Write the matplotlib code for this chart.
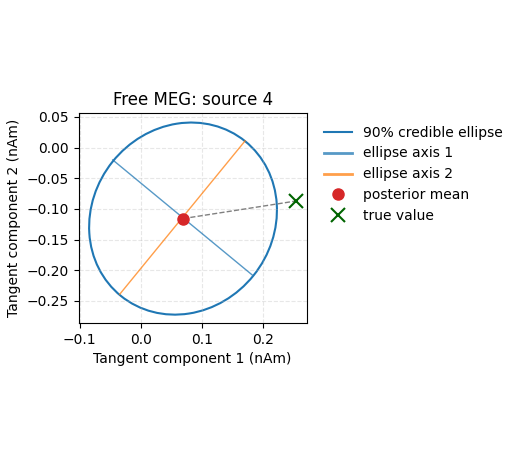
import matplotlib
matplotlib.use("Agg")
import matplotlib.pyplot as plt
from matplotlib.patches import Ellipse
from matplotlib.lines import Line2D
import numpy as np

# values (nAm)
post_mean = [0.069, -0.1157]
true_val = [0.254, -0.087]
semi_axes = [0.148, 0.162]      # half-lengths of axis 1 and axis 2
angle_axis2 = 51.2              # degrees, axis 1 is perpendicular
axis1_ends_x = [-0.046, 0.182]
axis1_ends_y = [-0.0200, -0.2075]
axis2_ends_x = [-0.0345, 0.1705]
axis2_ends_y = [-0.2390, 0.0110]

fig = plt.figure(figsize=(5.2, 4.59), dpi=100)
ax = fig.add_axes([0.151, 0.2963, 0.439, 0.4575])

ell = Ellipse(post_mean, width=2 * semi_axes[1], height=2 * semi_axes[0],
              angle=angle_axis2, fill=False, edgecolor='tab:blue', lw=1.5)
ax.add_patch(ell)
ax.plot(axis1_ends_x, axis1_ends_y, color='tab:blue', alpha=0.75, lw=1.0)
ax.plot(axis2_ends_x, axis2_ends_y, color='tab:orange', alpha=0.75, lw=1.0)
ax.plot([post_mean[0], true_val[0]], [post_mean[1], true_val[1]],
        ls='--', color='gray', lw=1.0)
ax.plot(post_mean[0], post_mean[1], 'o', color='tab:red', ms=8, zorder=5)
ax.plot(true_val[0], true_val[1], 'x', color='darkgreen', ms=10, mew=1.5, zorder=5)

ax.set_xlim(-0.102, 0.2715)
ax.set_ylim(-0.286, 0.0565)
ax.set_xticks([-0.1, 0.0, 0.1, 0.2])
ax.set_yticks(np.arange(-0.25, 0.051, 0.05))
ax.grid(True, ls='--', alpha=0.3)
ax.set_xlabel('Tangent component 1 (nAm)')
ax.set_ylabel('Tangent component 2 (nAm)')
ax.set_title('Free MEG: source 4')

handles = [
    Line2D([], [], color='tab:blue', lw=1.5),
    Line2D([], [], color='tab:blue', alpha=0.75, lw=2),
    Line2D([], [], color='tab:orange', alpha=0.75, lw=2),
    Line2D([], [], marker='o', ls='', color='tab:red', ms=8),
    Line2D([], [], marker='x', ls='', color='darkgreen', ms=10, mew=1.5),
]
labels = ['90% credible ellipse', 'ellipse axis 1', 'ellipse axis 2',
          'posterior mean', 'true value']
ax.legend(handles, labels, loc='upper left', bbox_to_anchor=(1.02, 1.0),
          frameon=False)

fig.savefig('out.png', dpi=100)
